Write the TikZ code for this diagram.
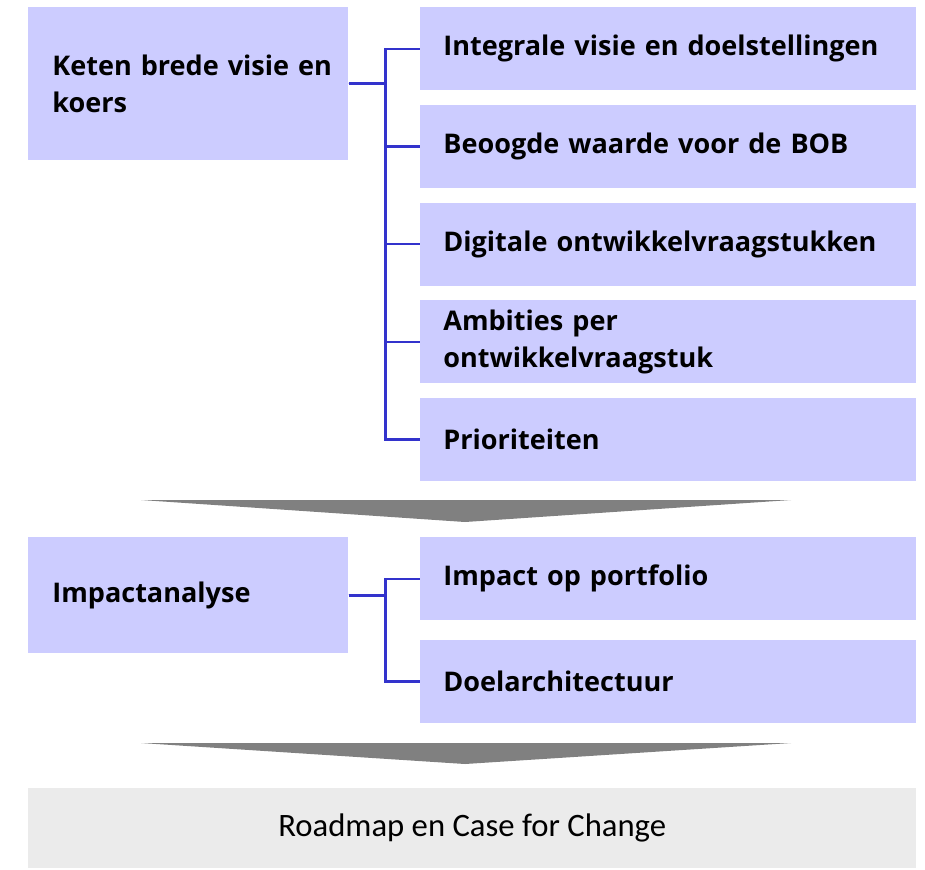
\documentclass[tikz,border=0pt]{standalone}
\usepackage{fontspec}
\setmainfont{Open Sans}
\newfontfamily\onderfont{Carlito}
\usetikzlibrary{positioning}

\definecolor{vak}{HTML}{CCCCFF}
\definecolor{lijn}{HTML}{3333CC}
\definecolor{grijs}{HTML}{EBEBEB}
\definecolor{pijlgrijs}{HTML}{808080}

\begin{document}
\begin{tikzpicture}[x=0.02cm, y=-0.02cm, node distance=0.28cm,
  hoofd/.style={fill=vak, anchor=north west, inner xsep=0.48cm, inner ysep=0pt,
    text width=5.44cm, align=left, font=\bfseries\fontsize{15.4}{21}\selectfont},
  deel/.style={fill=vak, inner xsep=0.46cm, inner ysep=0pt, minimum height=1.66cm,
    text width=9cm, align=left, font=\bfseries\fontsize{15.4}{21}\selectfont},
  tak/.style={draw=lijn, line width=1.4pt},
  pijl/.style={fill=pijlgrijs}]
\useasboundingbox (0,0) rectangle (925,869);

% fase 1
\node[hoofd, minimum height=3.06cm] (keten) at (28,7) {\mbox{Keten brede visie en}\\koers};
\node[deel, anchor=north west] (visie) at (420,7) {Integrale visie en doelstellingen};
\node[deel, below=of visie] (waarde) {Beoogde waarde voor de BOB};
\node[deel, below=of waarde] (vraag) {Digitale ontwikkelvraagstukken};
\node[deel, below=of vraag] (ambitie) {Ambities per\\ontwikkelvraagstuk};
\node[deel, below=of ambitie] (prio) {Prioriteiten};

\foreach \n in {visie,waarde,vraag,ambitie,prio}
  \draw[tak] (keten.east) -- ++(37,0) |- (\n.west);
\draw[tak, line width=1.8pt] (keten.east) -- ++(37,0);

\fill[pijl] (141,500) -- (791,500) -- (465,522) -- cycle;

% fase 2
\node[hoofd, minimum height=2.32cm] (impact) at (28,537) {Impactanalyse};
\node[deel, anchor=north west] (portfolio) at (420,537) {Impact op portfolio};
\node[deel, below=0.38cm of portfolio] (doel) {Doelarchitectuur};

\foreach \n in {portfolio,doel}
  \draw[tak] (impact.east) -- ++(37,0) |- (\n.west);
\draw[tak, line width=1.8pt] (impact.east) -- ++(37,0);

\fill[pijl] (141,743) -- (791,743) -- (465,764) -- cycle;

% resultaat
\node[fill=grijs, anchor=north west, minimum width=17.76cm, minimum height=1.6cm,
  inner sep=0pt, font=\onderfont\fontsize{18.6}{22}\selectfont] (roadmap) at (28,788)
  {Roadmap en Case for Change};
\end{tikzpicture}
\end{document}
